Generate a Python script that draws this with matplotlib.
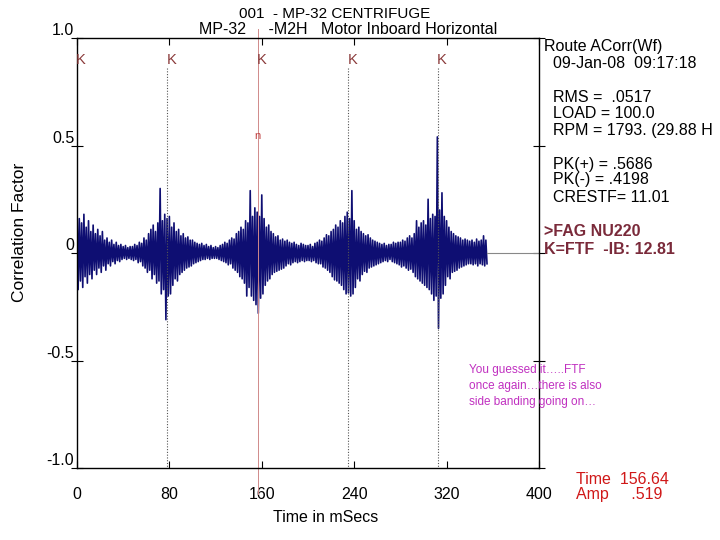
import matplotlib
matplotlib.use("Agg")
import matplotlib.pyplot as plt
import numpy as np

plt.rcParams['font.family'] = ['Liberation Sans', 'DejaVu Sans']

t_ms = np.arange(0, 356, 2)
upper = [
    0.22, 0.16, 0.14, 0.18, 0.12, 0.15, 0.10, 0.13, 0.09, 0.11,
    0.08, 0.10, 0.06, 0.07, 0.05, 0.06, 0.04, 0.05, 0.035, 0.04,
    0.03, 0.035, 0.025, 0.03, 0.03, 0.04, 0.035, 0.05, 0.045, 0.07,
    0.06, 0.09, 0.11, 0.13, 0.10, 0.14, 0.30, 0.15, 0.18, 0.16,
    0.17, 0.12, 0.14, 0.10, 0.11, 0.08, 0.09, 0.07, 0.075, 0.06,
    0.06, 0.05, 0.045, 0.04, 0.045, 0.035, 0.04, 0.03, 0.035, 0.025,
    0.03, 0.025, 0.035, 0.04, 0.05, 0.045, 0.06, 0.07, 0.065, 0.09,
    0.10, 0.12, 0.11, 0.15, 0.14, 0.29, 0.17, 0.21, 0.19, 0.17,
    0.27, 0.16, 0.12, 0.13, 0.10, 0.09, 0.075, 0.08, 0.06, 0.065,
    0.055, 0.06, 0.05, 0.045, 0.05, 0.04, 0.035, 0.045, 0.04, 0.035,
    0.035, 0.04, 0.03, 0.045, 0.05, 0.06, 0.055, 0.07, 0.085, 0.08,
    0.10, 0.11, 0.13, 0.12, 0.15, 0.14, 0.17, 0.19, 0.16, 0.29,
    0.15, 0.11, 0.12, 0.10, 0.09, 0.08, 0.085, 0.07, 0.06, 0.055,
    0.05, 0.045, 0.04, 0.045, 0.035, 0.04, 0.04, 0.05, 0.045, 0.05,
    0.05, 0.06, 0.055, 0.07, 0.08, 0.07, 0.09, 0.15, 0.12, 0.14,
    0.15, 0.13, 0.25, 0.16, 0.18, 0.17, 0.54, 0.20, 0.28, 0.17,
    0.15, 0.12, 0.10, 0.09, 0.08, 0.075, 0.07, 0.06, 0.065, 0.06,
    0.055, 0.06, 0.05, 0.065, 0.055, 0.06, 0.08, 0.06,
]
lower = [
    -0.17, -0.13, -0.16, -0.11, -0.14, -0.10, -0.12, -0.08, -0.10, -0.07,
    -0.09, -0.06, -0.08, -0.05, -0.06, -0.04, -0.05, -0.035, -0.04, -0.03,
    -0.025, -0.03, -0.025, -0.03, -0.035, -0.03, -0.045, -0.04, -0.06, -0.07,
    -0.09, -0.08, -0.12, -0.10, -0.14, -0.13, -0.19, -0.17, -0.31, -0.20,
    -0.19, -0.15, -0.12, -0.13, -0.10, -0.09, -0.08, -0.07, -0.065, -0.06,
    -0.05, -0.045, -0.04, -0.035, -0.03, -0.03, -0.025, -0.03, -0.025, -0.025,
    -0.025, -0.03, -0.035, -0.04, -0.045, -0.055, -0.05, -0.07, -0.08, -0.09,
    -0.11, -0.12, -0.14, -0.20, -0.16, -0.20, -0.22, -0.24, -0.28, -0.21,
    -0.19, -0.15, -0.13, -0.12, -0.10, -0.09, -0.085, -0.08, -0.075, -0.07,
    -0.06, -0.05, -0.055, -0.045, -0.04, -0.045, -0.04, -0.035, -0.04, -0.035,
    -0.035, -0.04, -0.035, -0.045, -0.05, -0.05, -0.065, -0.07, -0.08, -0.09,
    -0.11, -0.125, -0.13, -0.14, -0.15, -0.17, -0.19, -0.185, -0.20, -0.19,
    -0.16, -0.12, -0.13, -0.10, -0.085, -0.09, -0.07, -0.065, -0.06, -0.055,
    -0.05, -0.045, -0.04, -0.035, -0.04, -0.03, -0.04, -0.045, -0.05, -0.055,
    -0.065, -0.06, -0.07, -0.08, -0.075, -0.09, -0.11, -0.12, -0.13, -0.14,
    -0.15, -0.16, -0.17, -0.19, -0.22, -0.20, -0.35, -0.21, -0.19, -0.15,
    -0.11, -0.12, -0.09, -0.085, -0.08, -0.07, -0.065, -0.06, -0.055, -0.05,
    -0.05, -0.055, -0.05, -0.06, -0.05, -0.055, -0.06, -0.05,
]

ftf_marks = [0.0, 78.3, 156.64, 234.9, 312.5]
cursor_t = 156.64
x_ticks = [0, 80, 160, 240, 320, 400]
y_ticks = [1.0, 0.5, 0.0, -0.5, -1.0]
y_ticklabels = ['1.0', '0.5', '0', '-0.5', '-1.0']

fig = plt.figure(figsize=(7.2, 5.4), dpi=100)
ax = fig.add_axes([0.1069, 0.1333, 0.6417, 0.7963])

# zigzag through upper/lower extremes
zx = np.column_stack([t_ms, t_ms + 1.0]).ravel()
zy = np.column_stack([upper, lower]).ravel()
ax.plot(zx, zy, color='#0e0e72', lw=1.2)
ax.plot([zx[-1], 400], [0, 0], color='#888888', lw=0.8)

# FTF harmonic markers
kcol = '#8a3a3a'
for i, m in enumerate(ftf_marks):
    ax.text(m + 3.5, 0.90, 'K', color=kcol, fontsize=10.5, ha='center', va='center')
    if i in (1, 3, 4):
        ax.plot([m, m], [0.86, -1.0], color='#555555', lw=0.8, ls=(0, (1, 1.5)))

ax.plot([cursor_t, cursor_t], [1.04, -1.12], color='#d08a8a', lw=0.7, clip_on=False)
ax.text(cursor_t, 0.545, 'n', color='#c04040', fontsize=8, ha='center', va='center')

ax.set_xlim(0, 400)
ax.set_ylim(-1.0, 1.0)
ax.set_xticks(x_ticks)
ax.set_xticklabels([str(v) for v in x_ticks], fontsize=11.5)
ax.set_yticks(y_ticks)
ax.set_yticklabels(y_ticklabels, fontsize=11.5, va='bottom')
ax.tick_params(axis='x', direction='in', top=True, length=5, pad=14)
ax.tick_params(axis='y', direction='inout', length=8, pad=-2)
ax.tick_params(axis='y', which='both', right=True)
for s in ax.spines.values():
    s.set_linewidth(1.0)

ax.set_xlabel('Time in mSecs', fontsize=11.5, labelpad=1)
ax.xaxis.set_label_coords(0.539, -0.098)
fig.text(20 / 720, 1 - 232 / 540, 'Correlation Factor', fontsize=12.5, rotation=90,
         ha='center', va='center')

fig.text(335 / 720, 0.974, '001  - MP-32 CENTRIFUGE', fontsize=11, ha='center', va='center')
fig.text(348 / 720, 0.946, 'MP-32     -M2H   Motor Inboard Horizontal', fontsize=11.5,
         ha='center', va='center')

def ptext(x, y, s, **kw):
    fig.text(x / 720, 1 - y / 540, s, va='center', fontsize=11.5, **kw)

ptext(544, 47, 'Route ACorr(Wf)')
ptext(553, 63, '09-Jan-08  09:17:18')
ptext(553, 97, 'RMS =  .0517')
ptext(553, 114, 'LOAD = 100.0')
ptext(553, 130, 'RPM = 1793. (29.88 H')
ptext(553, 164, 'PK(+) = .5686')
ptext(553, 180, 'PK(-) = .4198')
ptext(553, 197, 'CRESTF= 11.01')
ptext(544, 232, '>FAG NU220', color='#7a2a3a', fontweight='bold')
ptext(544, 249, 'K=FTF  -IB: 12.81', color='#7a2a3a', fontweight='bold')
ptext(576, 479, 'Time  156.64', color='#d01818')
ptext(576, 495, 'Amp     .519', color='#d01818')

note = 'You guessed it…..FTF\nonce again…there is also\nside banding going on…'
fig.text(469 / 720, 1 - 364 / 540, note, fontsize=8.5, color='#c030c0', va='top',
         linespacing=1.45)

fig.savefig('out.png', dpi=100)
